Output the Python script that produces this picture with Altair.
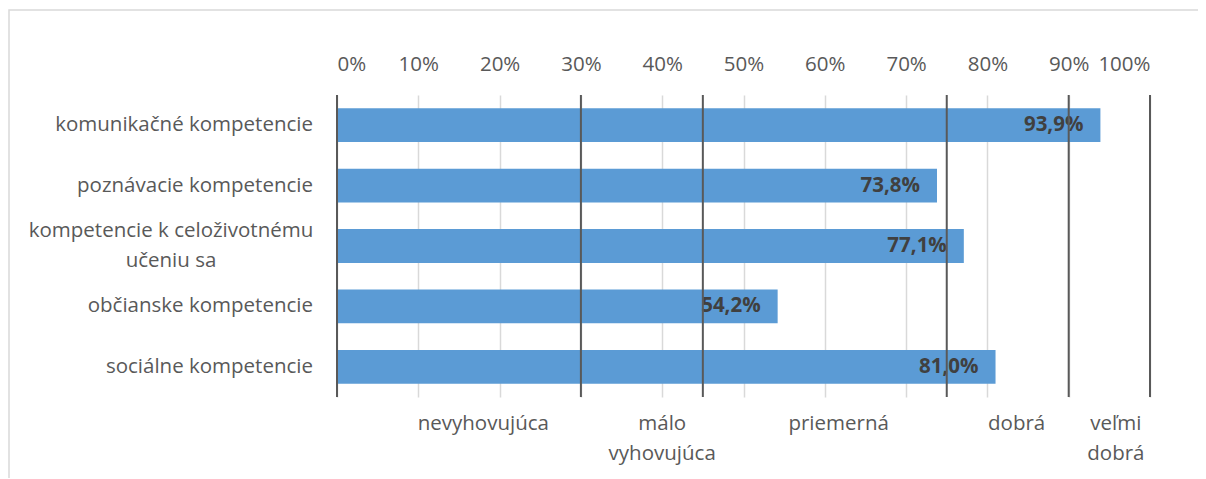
import altair as alt
import pandas as pd

# ---- data ----
categories = [
    "komunikačné kompetencie",
    "poznávacie kompetencie",
    "kompetencie k celoživotnému učeniu sa",
    "občianske kompetencie",
    "sociálne kompetencie",
]
category_lines = [
    ["komunikačné kompetencie"],
    ["poznávacie kompetencie"],
    ["kompetencie k celoživotnému", "učeniu sa"],
    ["občianske kompetencie"],
    ["sociálne kompetencie"],
]
values = [93.9, 73.8, 77.1, 54.2, 81.0]
tick_values = [0, 10, 20, 30, 40, 50, 60, 70, 80, 90, 100]
boundaries = [0, 30, 45, 75, 90, 100]
rating_lines = [["nevyhovujúca"], ["málo", "vyhovujúca"], ["priemerná"], ["dobrá"], ["veľmi", "dobrá"]]
rating_centers = [18, 40, 61.7, 83.6, 95.8]

FONT = "Open Sans"
FS = 20.5
TXT = "#595959"
W, H = 813, 302

bars_df = pd.DataFrame({
    "cat": categories,
    "value": values,
    "lines": category_lines,
    "multi": [len(l) > 1 for l in category_lines],
})
bounds_df = pd.DataFrame({"b": boundaries})
rating_df = pd.DataFrame({"pos": rating_centers, "lines": rating_lines})
frame_df = pd.DataFrame({"k": [0]})

x_scale = alt.Scale(domain=[0, 100], nice=False, zero=True)
x_axis = alt.Axis(
    orient="top", values=tick_values, labelExpr="datum.value + '%'",
    grid=True, gridColor="#d9d9d9", gridWidth=1.5,
    domain=False, ticks=False, tickSize=0, labelPadding=21,
    labelFont=FONT, labelFontSize=FS, labelColor=TXT, title=None,
)
y_enc = alt.Y("cat:N", sort=categories, axis=None,
              scale=alt.Scale(paddingInner=0.44, paddingOuter=0.22))

frame = alt.Chart(frame_df).mark_rect(
    fill="transparent", stroke="#d9d9d9", strokeWidth=1.5
).encode(
    x=alt.value(-328), x2=alt.value(W + 200),
    y=alt.value(-85), y2=alt.value(H + 200),
)

bars = alt.Chart(bars_df).mark_bar(color="#5B9BD5").encode(
    x=alt.X("value:Q", scale=x_scale, axis=x_axis),
    y=y_enc,
)

value_labels = alt.Chart(bars_df).transform_calculate(
    lab="replace(format(datum.value, '.1f'), '.', ',') + '%'"
).mark_text(
    align="right", baseline="middle", dx=-17, font=FONT, fontSize=FS,
    fontWeight="bold", color="#404040",
).encode(
    x=alt.X("value:Q", scale=x_scale, axis=x_axis),
    y=y_enc,
    text="lab:N",
)

rules = alt.Chart(bounds_df).mark_rule(color="#595959", strokeWidth=2).encode(
    x=alt.X("b:Q", scale=x_scale, axis=x_axis),
)

cat_single = alt.Chart(bars_df).transform_filter("!datum.multi").mark_text(
    align="right", baseline="middle", font=FONT, fontSize=FS, color=TXT,
).encode(x=alt.value(-24), y=y_enc, text="lines:N")

cat_multi = alt.Chart(bars_df).transform_filter("datum.multi").mark_text(
    align="center", baseline="middle", font=FONT, fontSize=FS, color=TXT,
    lineHeight=30, dy=-15,
).encode(x=alt.value(-166), y=y_enc, text="lines:N")

ratings = alt.Chart(rating_df).mark_text(
    align="center", baseline="alphabetic", font=FONT, fontSize=FS, color=TXT,
    lineHeight=30,
).encode(
    x=alt.X("pos:Q", scale=x_scale, axis=x_axis),
    y=alt.value(H + 33),
    text="lines:N",
)

chart = alt.layer(
    frame, bars, value_labels, rules, cat_single, cat_multi, ratings
).properties(
    width=W, height=H,
    autosize=alt.AutoSizeParams(type="none"),
    padding={"left": 329, "top": 87, "right": 48, "bottom": 81},
).configure_view(stroke=None)

chart.save("out.html", embed_options={"renderer": "svg", "actions": False})
